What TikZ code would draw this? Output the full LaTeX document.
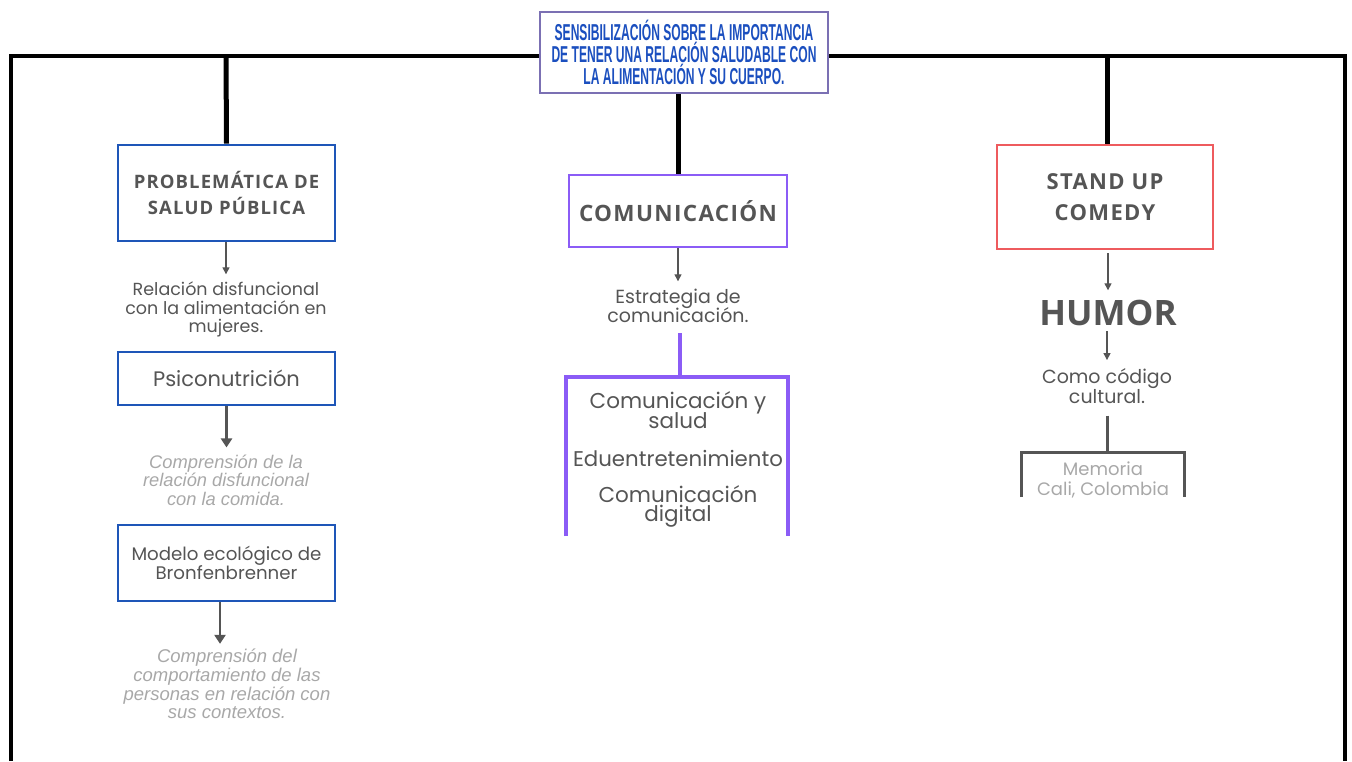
\documentclass[tikz,border=0pt]{standalone}
\usepackage{fontspec}
\usetikzlibrary{arrows.meta,positioning}
\setmainfont{Poppins}
\newfontfamily\osb[LetterSpace=6]{Open Sans}
\newfontfamily\osn{Open Sans}
\newfontfamily\titlef{Liberation Sans}
\newfontfamily\popf{Poppins}
\newfontfamily\itf{Liberation Sans}
\newcommand{\tight}{\lineskiplimit=-100pt\lineskip=0pt}
\definecolor{tblue}{HTML}{1B4FBF}
\definecolor{tborder}{HTML}{7B70B3}
\definecolor{bblue}{HTML}{1E56B8}
\definecolor{purp}{HTML}{8B5CF6}
\definecolor{coral}{HTML}{EE5B5E}
\definecolor{dgray}{HTML}{555555}
\definecolor{lgray}{HTML}{A8A8A8}
\tikzset{
  frameline/.style={line width=4pt, black},
  box/.style={draw, line width=2.6pt, fill=white, inner sep=0pt, align=center},
  txt/.style={inner sep=0pt, align=center, text=dgray},
  arr/.style={-{Triangle[length=7pt,width=7pt]}, dgray, line width=1.3pt},
  arrb/.style={-{Triangle[length=9pt,width=11pt]}, dgray, line width=2.3pt},
}
\newcommand{\tl}[1]{\scalebox{0.525}[1]{#1}}
\begin{document}
\begin{tikzpicture}[x=1pt,y=-1pt]
\useasboundingbox (0,0) rectangle (1352,761);
% frame
\coordinate (fl) at (11,761);
\coordinate (ftl) at (11,56);
\coordinate (ftr) at (1345,56);
\coordinate (fr) at (1345,761);
\draw[frameline] (fl) -- (ftl) -- (ftr) -- (fr);
\coordinate (b1) at (226,56);
\coordinate (b3) at (1107,56);
% boxes
\node[box, draw=bblue, minimum width=217pt, minimum height=96pt, font={\tight\osb\bfseries\fontsize{18.5}{25.5}\selectfont}, text=dgray] (prob) at (226.5,193) {PROBLEMÁTICA DE\\SALUD PÚBLICA};
\node[box, draw=purp, minimum width=218pt, minimum height=72pt, font={\tight\osb\bfseries\fontsize{22.5}{26}\selectfont}, text=dgray] (com) at (678,211) {COMUNICACIÓN};
\node[box, draw=coral, minimum width=216pt, minimum height=104pt, font={\tight\osb\bfseries\fontsize{22}{31}\selectfont}, text=dgray] (stand) at (1105,197) {STAND UP\\COMEDY};
\draw[line width=5pt] (b1) -- (prob.north);
\draw[line width=5pt] (b3) -- (stand.north -| b3);
% title
\node[draw=tborder, line width=2pt, fill=white, minimum width=288pt, minimum height=81pt, inner sep=0pt, align=center, text=tblue, font={\tight\titlef\bfseries\fontsize{23}{22}\selectfont}] (title) at (684,52.5) {\tl{SENSIBILIZACIÓN SOBRE LA IMPORTANCIA}\\\tl{DE TENER UNA RELACIÓN SALUDABLE CON}\\\tl{LA ALIMENTACIÓN Y SU CUERPO.}};
\draw[line width=5pt] (title.south -| com.north) -- (com.north);
% left column
\node[txt, font={\tight\fontsize{17.5}{18.3}\selectfont}] (rel) at (226,309.5) {Relación disfuncional\\con la alimentación en\\mujeres.};
\draw[arr] (prob.south -| rel.north) -- ++(0,32);
\node[box, draw=bblue, minimum width=217pt, minimum height=53pt, text=dgray, font={\tight\popf\fontsize{21}{20}\selectfont}] (psico) at (226.5,378.5) {Psiconutrición};
\node[txt, text=lgray, font={\tight\itf\itshape\fontsize{18.3}{18.5}\selectfont}] (comp1) at (226,480) {Comprensión de la\\relación disfuncional\\con la comida.};
\draw[arrb] (psico.south) -- ([yshift=7pt]comp1.north -| psico.south);
\node[box, draw=bblue, minimum width=217pt, minimum height=76pt, text=dgray, font={\tight\popf\fontsize{18.2}{19}\selectfont}] (modelo) at (226.5,563) {Modelo ecológico de\\Bronfenbrenner};
\node[txt, text=lgray, font={\tight\itf\itshape\fontsize{18.5}{18.7}\selectfont}] (comp2) at (227,684) {Comprensión del\\comportamiento de las\\personas en relación con\\sus contextos.};
\draw[arrb] (modelo.south -| 220,0) -- ([yshift=5pt]comp2.north -| 220,0);
% middle column
\node[txt, font={\tight\fontsize{19}{19}\selectfont}] (estr) at (678,306) {Estrategia de\\comunicación.};
\draw[arr] (com.south) -- ++(0,33);
\coordinate (ctop) at (680,377);
\coordinate (cl) at (566,377);
\coordinate (cr) at (788,377);
\coordinate (clb) at (566,536);
\coordinate (crb) at (788,536);
\draw[purp, line width=4pt] ([yshift=-10pt]estr.south -| ctop) -- (ctop);
\draw[purp, line width=4pt] (clb) -- (cl) -- (cr) -- (crb);
\node[txt, font={\tight\fontsize{21.5}{19.5}\selectfont}] (l1) at (678,410) {Comunicación y\\salud};
\node[txt, font={\tight\fontsize{21.3}{19.5}\selectfont}] (l2) at (678,458) {Eduentretenimiento};
\node[txt, font={\tight\fontsize{21.5}{19.5}\selectfont}] (l3) at (678,506.5) {Comunicación\\digital};
% right column
\node[txt, font={\tight\osn\bfseries\fontsize{35}{40}\selectfont}] (humor) at (1108,313) {HUMOR};
\draw[arr] (stand.south -| humor.north) ++(0,3) -- ++(0,37);
\node[txt, font={\tight\fontsize{19}{19.5}\selectfont}] (como) at (1107,386) {Como código\\cultural.};
\draw[arr] (humor.south -| como.north) ++(0,5) -- ++(0,29);
\coordinate (mtop) at (1107,452);
\coordinate (ml) at (1021,452);
\coordinate (mr) at (1184,452);
\coordinate (mlb) at (1021,497);
\coordinate (mrb) at (1184,497);
\draw[dgray, line width=3pt] ([yshift=-12pt]como.south -| mtop) -- (mtop);
\draw[dgray, line width=3pt] (mlb) -- (ml) -- (mr) -- (mrb);
\node[txt, text=lgray, font={\tight\fontsize{18}{20}\selectfont}] (mem) at (1103,479.5) {Memoria\\Cali, Colombia};
\end{tikzpicture}
\end{document}
